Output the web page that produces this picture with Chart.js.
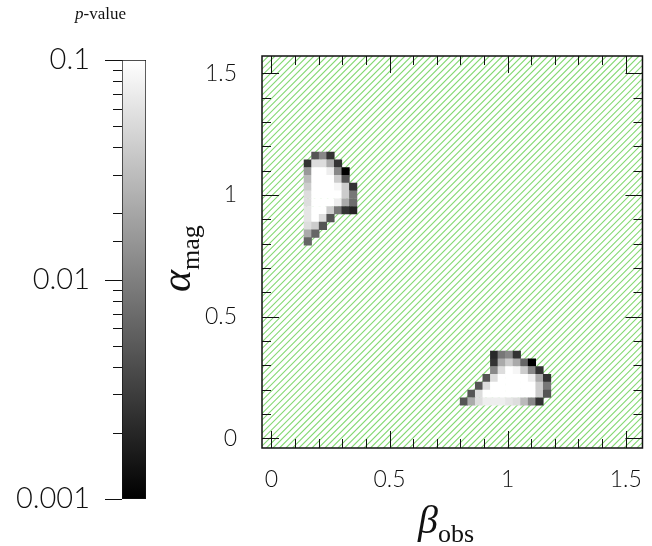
<!DOCTYPE html>
<html>
<head>
<meta charset="utf-8">
<script src="https://cdn.jsdelivr.net/npm/chart.js@4.4.1/dist/chart.umd.min.js"></script>
<style>
  html, body { margin: 0; padding: 0; background: #fff; }
  #wrap { position: relative; width: 652px; height: 546px; overflow: hidden; }
  canvas { position: absolute; top: 0; }
  #barChart { left: 0; }
  #mainChart { left: 160px; }
  .lbl { position: absolute; font-family: "Liberation Serif", serif; color: #111; white-space: nowrap; line-height: 1; }
  .sub { position: relative; }
</style>
</head>
<body>
<div id="wrap">
  <canvas id="barChart" width="160" height="546"></canvas>
  <canvas id="mainChart" width="492" height="546"></canvas>
  <div class="lbl" style="left:75px; top:5px; font-size:17px;"><i>p</i>-value</div>
  <div class="lbl" style="left:418px; top:500px; font-size:40px;"><i>β</i><span class="sub" style="font-size:26px; top:9px;">obs</span></div>
  <div class="lbl" style="left:155px; top:292px; font-size:42px; transform:rotate(-90deg); transform-origin:left top;"><i>α</i><span class="sub" style="font-size:26px; top:9px;">mag</span></div>
</div>
<script>
// axis limits
const betaRange = [-0.04, 1.571];
const alphaRange = [-0.04, 1.571];
const pRange = [0.001, 0.1];
const axisLabels = [0, 0.5, 1, 1.5];
const pLabels = [0.1, 0.01, 0.001];
const cellSize = 0.032;

// upper-left island
const betaColsA = [0.154, 0.186, 0.218, 0.250, 0.282, 0.314, 0.346];
const alphaRowsA = [1.161, 1.129, 1.097, 1.065, 1.033, 1.001, 0.969, 0.937, 0.905, 0.873, 0.841, 0.809];
const pValuesA = [
    [null,   0.0046, 0.0116, 0.0025, null,   null,   null],
    [0.0025, 0.054,  0.054,  0.0215, 0.0025, null,   null],
    [0.0158, 0.1,    0.1,    0.074,  0.0116, 0.001,  null],
    [0.029,  0.1,    0.1,    0.1,    0.040,  0.0046, null],
    [0.040,  0.1,    0.1,    0.1,    0.085,  0.040,  0.0025],
    [0.054,  0.1,    0.1,    0.1,    0.1,    0.040,  0.0086],
    [0.054,  0.1,    0.1,    0.1,    0.074,  0.0215, 0.0072],
    [0.063,  0.1,    0.1,    0.040,  0.0086, 0.0025, 0.0019],
    [0.063,  0.1,    0.054,  0.0046, null,   null,   null],
    [0.054,  0.040,  0.0046, null,   null,   null,   null],
    [0.0215, 0.0063, null,   null,   null,   null,   null],
    [0.0063, null,   null,   null,   null,   null,   null]
];

// lower-right island
const betaColsB = [0.815, 0.847, 0.879, 0.911, 0.943, 0.975, 1.007, 1.039, 1.071, 1.103, 1.135, 1.167];
const alphaRowsB = [0.343, 0.311, 0.279, 0.247, 0.215, 0.183, 0.151];
const pValuesB = [
    [null,   null,   null,   null,   0.0021, 0.0086, 0.0116, 0.0025, null,   null,   null,   null],
    [null,   null,   null,   null,   0.0025, 0.0215, 0.040,  0.0215, 0.0063, 0.001,  null,   null],
    [null,   null,   null,   null,   0.0116, 0.054,  0.1,    0.085,  0.040,  0.0116, 0.0025, null],
    [null,   null,   null,   0.0046, 0.054,  0.1,    0.1,    0.1,    0.1,    0.074,  0.0215, 0.0025],
    [null,   null,   0.0046, 0.054,  0.1,    0.1,    0.1,    0.1,    0.1,    0.1,    0.040,  0.0086],
    [null,   0.0046, 0.054,  0.1,    0.1,    0.1,    0.1,    0.1,    0.1,    0.1,    0.040,  0.0046],
    [0.0046, 0.0215, 0.054,  0.074,  0.074,  0.074,  0.063,  0.054,  0.029,  0.0116, 0.0025, null]
];

const tickFont = { family: 'Lato', size: 23, weight: '300' };
const inkColor = '#111';
const hatchColor = '#86d975';

function grayFor(p) {
    const lo = Math.log10(pRange[0]), hi = Math.log10(pRange[1]);
    const t = Math.min(1, Math.max(0, (Math.log10(p) - lo) / (hi - lo)));
    const g = Math.round(255 * t);
    return 'rgb(' + g + ',' + g + ',' + g + ')';
}

function cellPoints(cols, rows, values) {
    const pts = [];
    values.forEach((row, i) => row.forEach((p, j) => {
        if (p !== null) pts.push({ x: cols[j], y: rows[i], p: p });
    }));
    return pts;
}

// square side in pixels, taken from the x scale
function cellRadius(c) {
    const s = c.chart.scales.x;
    const side = Math.abs(s.getPixelForValue(cellSize) - s.getPixelForValue(0)) + 0.6;
    return side / Math.SQRT2;
}

function halfLabel(v) {
    const r = Math.round(v * 2) / 2;
    return Math.abs(v - r) < 1e-6 && axisLabels.includes(r) ? String(r) : '';
}

// green diagonal hatching behind the cells
const hatchPlugin = {
    id: 'hatch',
    beforeDatasetsDraw(chart) {
        const { ctx, chartArea: a } = chart;
        const w = a.right - a.left, h = a.bottom - a.top;
        ctx.save();
        ctx.beginPath();
        ctx.rect(a.left, a.top, w, h);
        ctx.clip();
        ctx.strokeStyle = hatchColor;
        ctx.lineWidth = 1.1;
        ctx.beginPath();
        for (let x0 = a.left - h; x0 < a.right + 6; x0 += 6.5) {
            ctx.moveTo(x0, a.bottom);
            ctx.lineTo(x0 + h, a.top);
        }
        ctx.stroke();
        ctx.restore();
    }
};

// frame with inward ticks on all four sides
const framePlugin = {
    id: 'frame',
    afterDatasetsDraw(chart) {
        const { ctx, chartArea: a, scales } = chart;
        ctx.save();
        ctx.strokeStyle = inkColor;
        ctx.lineWidth = 1;
        ctx.beginPath();
        scales.x.ticks.forEach(t => {
            const px = Math.round(scales.x.getPixelForValue(t.value)) + 0.5;
            const len = halfLabel(t.value) ? 17 : 9;
            ctx.moveTo(px, a.bottom); ctx.lineTo(px, a.bottom - len);
            ctx.moveTo(px, a.top); ctx.lineTo(px, a.top + len);
        });
        scales.y.ticks.forEach(t => {
            const py = Math.round(scales.y.getPixelForValue(t.value)) + 0.5;
            const len = halfLabel(t.value) ? 17 : 9;
            ctx.moveTo(a.left, py); ctx.lineTo(a.left + len, py);
            ctx.moveTo(a.right, py); ctx.lineTo(a.right - len, py);
        });
        ctx.stroke();
        ctx.lineWidth = 1.5;
        ctx.strokeRect(a.left, a.top, a.right - a.left, a.bottom - a.top);
        ctx.restore();
    }
};

// outward ticks for the colour bar
const barTicksPlugin = {
    id: 'barTicks',
    afterDraw(chart) {
        const { ctx, chartArea: a, scales } = chart;
        ctx.save();
        ctx.strokeStyle = inkColor;
        ctx.lineWidth = 1;
        ctx.beginPath();
        scales.y.ticks.forEach(t => {
            const py = Math.round(scales.y.getPixelForValue(t.value)) + 0.5;
            const major = pLabels.some(v => Math.abs(t.value - v) / v < 1e-6);
            ctx.moveTo(a.left, py); ctx.lineTo(a.left - (major ? 17 : 9), py);
        });
        ctx.stroke();
        ctx.restore();
    }
};

window.onload = () => {
    new Chart(document.getElementById('mainChart'), {
        type: 'scatter',
        data: {
            datasets: [
                { data: cellPoints(betaColsA, alphaRowsA, pValuesA) },
                { data: cellPoints(betaColsB, alphaRowsB, pValuesB) }
            ]
        },
        options: {
            responsive: false,
            animation: false,
            events: [],
            layout: { padding: { left: 0, top: 56, right: 6, bottom: 0 } },
            elements: {
                point: {
                    pointStyle: 'rect',
                    radius: cellRadius,
                    borderWidth: 0,
                    backgroundColor: c => grayFor(c.raw.p)
                }
            },
            plugins: { legend: { display: false }, tooltip: { enabled: false } },
            scales: {
                x: {
                    type: 'linear',
                    min: betaRange[0], max: betaRange[1],
                    grid: { display: false },
                    border: { display: false },
                    ticks: {
                        stepSize: 0.1, includeBounds: false, autoSkip: false, maxRotation: 0,
                        padding: 10, color: inkColor, font: tickFont,
                        callback: v => halfLabel(v)
                    },
                    afterFit: s => { s.height = 98; }
                },
                y: {
                    type: 'linear',
                    min: alphaRange[0], max: alphaRange[1],
                    grid: { display: false },
                    border: { display: false },
                    ticks: {
                        stepSize: 0.1, includeBounds: false, autoSkip: false,
                        padding: 17, color: inkColor, font: tickFont,
                        callback: v => halfLabel(v)
                    },
                    afterFit: s => { s.width = 102; }
                }
            }
        },
        plugins: [hatchPlugin, framePlugin]
    });

    new Chart(document.getElementById('barChart'), {
        type: 'bar',
        data: {
            labels: ['p'],
            datasets: [{
                data: [pRange],
                backgroundColor: c => {
                    const a = c.chart.chartArea;
                    if (!a) return '#888';
                    const g = c.chart.ctx.createLinearGradient(0, a.bottom, 0, a.top);
                    g.addColorStop(0, '#000');
                    g.addColorStop(1, '#fff');
                    return g;
                },
                borderColor: inkColor,
                borderWidth: 1,
                borderSkipped: false,
                barPercentage: 1,
                categoryPercentage: 1
            }]
        },
        options: {
            responsive: false,
            animation: false,
            events: [],
            layout: { padding: { left: 0, top: 60, right: 14, bottom: 47 } },
            plugins: { legend: { display: false }, tooltip: { enabled: false } },
            scales: {
                x: { display: false },
                y: {
                    type: 'logarithmic',
                    min: pRange[0], max: pRange[1],
                    grid: { display: false },
                    border: { display: false },
                    ticks: {
                        autoSkip: false, padding: 24, color: inkColor,
                        font: { family: 'Lato', size: 29, weight: '300' },
                        callback: v => pLabels.some(t => Math.abs(v - t) / t < 1e-6) ? String(v) : ''
                    },
                    afterFit: s => { s.width = 122; }
                }
            }
        },
        plugins: [barTicksPlugin]
    });
};
</script>
</body>
</html>
